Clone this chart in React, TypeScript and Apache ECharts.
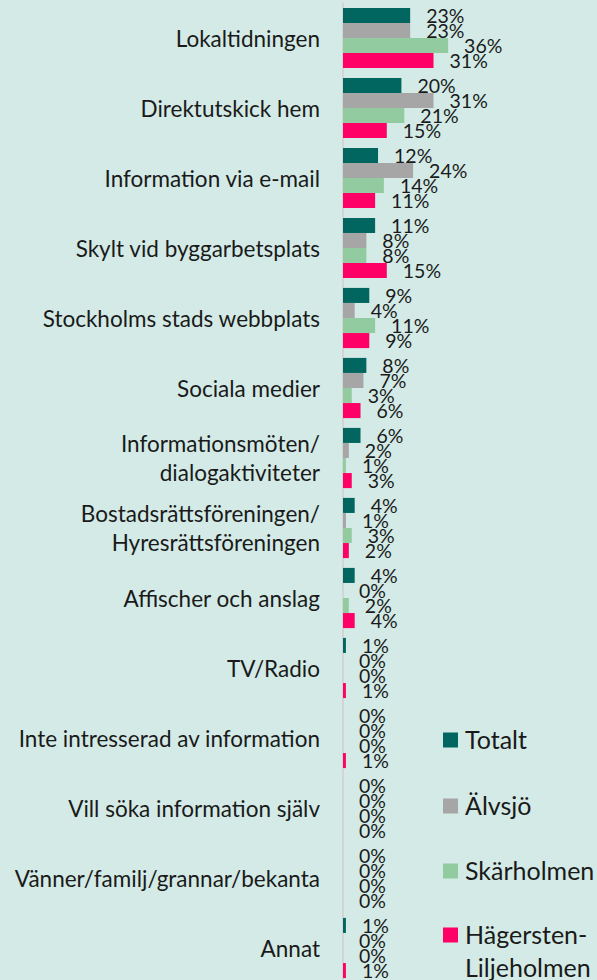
import React, { useEffect, useRef } from "react";
import * as echarts from "echarts";

const categories = [
  "Lokaltidningen",
  "Direktutskick hem",
  "Information via e-mail",
  "Skylt vid byggarbetsplats",
  "Stockholms stads webbplats",
  "Sociala medier",
  "Informationsmöten/\ndialogaktiviteter",
  "Bostadsrättsföreningen/\nHyresrättsföreningen",
  "Affischer och anslag",
  "TV/Radio",
  "Inte intresserad av information",
  "Vill söka information själv",
  "Vänner/familj/grannar/bekanta",
  "Annat",
];

const seriesNames = ["Totalt", "Älvsjö", "Skärholmen", "Hägersten-Liljeholmen"];
const legendLabels = ["Totalt", "Älvsjö", "Skärholmen", "Hägersten-\nLiljeholmen"];

const totalt = [23, 20, 12, 11, 9, 8, 6, 4, 4, 1, 0, 0, 0, 1];
const alvsjo = [23, 31, 24, 8, 4, 7, 2, 1, 0, 0, 0, 0, 0, 0];
const skarholmen = [36, 21, 14, 8, 11, 3, 1, 3, 2, 0, 0, 0, 0, 0];
const hagersten = [31, 15, 11, 15, 9, 6, 3, 2, 4, 1, 1, 0, 0, 1];

const seriesValues = [totalt, alvsjo, skarholmen, hagersten];
const colors = ["#00665f", "#a6a6a6", "#93cba0", "#ff0066"];

const FONT = "Lato, 'Noto Sans', sans-serif";

export default function App() {
  const ref = useRef<HTMLDivElement>(null);

  useEffect(() => {
    if (!ref.current) return;
    const chart = echarts.init(ref.current, null, { renderer: "svg" });

    const legendY = [740, 806, 871, 935];
    const graphic: any[] = [];
    legendLabels.forEach((lab, i) => {
      graphic.push({
        type: "rect",
        left: 443,
        top: legendY[i] - 7.5,
        shape: { width: 15, height: 15 },
        style: { fill: colors[i] },
        silent: true,
      });
      graphic.push({
        type: "text",
        left: 465,
        top: legendY[i] - 17.5,
        style: {
          text: lab,
          fill: "#1a1a1a",
          font: `25px ${FONT}`,
          lineHeight: 33,
        },
        silent: true,
      });
    });

    chart.setOption({
      animation: false,
      backgroundColor: "#d3eae6",
      grid: {
        left: 343,
        top: 3,
        width: 292,
        height: 980,
        outerBoundsMode: "none",
      },
      xAxis: {
        type: "value",
        min: 0,
        max: 100,
        show: false,
      },
      yAxis: {
        type: "category",
        inverse: true,
        data: categories,
        axisLine: { show: true, lineStyle: { color: "#d4d4d4", width: 2 } },
        axisTick: { show: false },
        splitLine: { show: false },
        axisLabel: {
          margin: 23,
          fontSize: 22.5,
          lineHeight: 29,
          color: "#1a1a1a",
          fontFamily: FONT,
          align: "right",
        },
      },
      graphic,
      series: seriesNames.map((name, i) => ({
        name,
        type: "bar",
        data: seriesValues[i],
        barGap: "0%",
        barCategoryGap: "14%",
        itemStyle: { color: colors[i] },
        label: {
          show: true,
          position: "right",
          distance: 16,
          formatter: "{c}%",
          fontSize: 19.5,
          color: "#1a1a1a",
          fontFamily: FONT,
        },
      })),
    });

    return () => chart.dispose();
  }, []);

  return (
    <div
      ref={ref}
      style={{ position: "absolute", left: 0, top: 0, width: 597, height: 980 }}
    />
  );
}
